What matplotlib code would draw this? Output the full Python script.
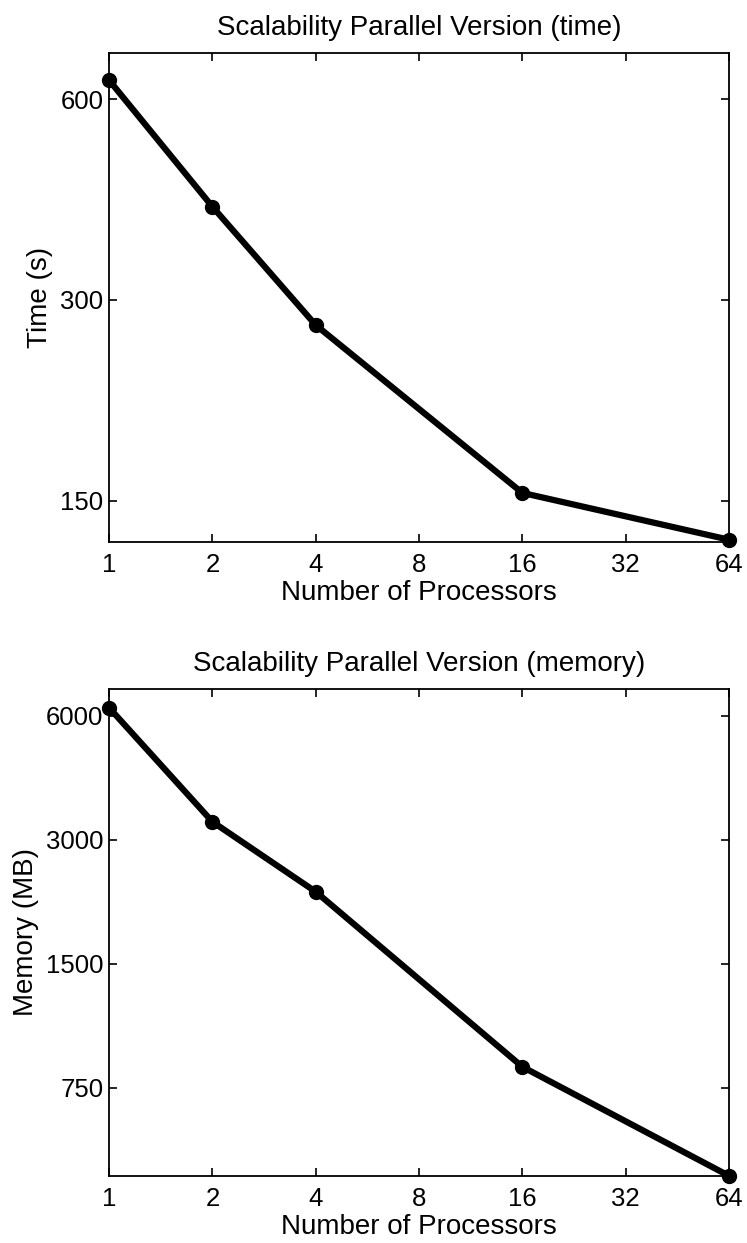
import numpy as np
import matplotlib.pyplot as plt
from matplotlib.ticker import FixedLocator, FixedFormatter, NullLocator

plt.rcParams['font.family'] = ['Liberation Sans', 'DejaVu Sans']

# data
procs = [1, 2, 4, 16, 64]
time_s = [641, 414, 275, 154, 131]
memory_mb = [6275, 3318, 2244, 844, 459]

xticks = [1, 2, 4, 8, 16, 32, 64]
time_ticks = [150, 300, 600]
mem_ticks = [750, 1500, 3000, 6000]

fig = plt.figure(figsize=(7.47, 12.43), dpi=100)
ax1 = fig.add_axes([0.146, 0.564, 0.830, 0.393])
ax2 = fig.add_axes([0.146, 0.054, 0.830, 0.392])


def style(ax, y, yticks, ylim, title, ylabel):
    ax.plot(procs, y, color='black', lw=4.5, marker='o', ms=10,
            mfc='black', mec='black', clip_on=False, zorder=3)
    ax.set_xscale('log', base=2)
    ax.set_yscale('log')
    ax.set_xlim(1, 64)
    ax.set_ylim(*ylim)
    ax.xaxis.set_major_locator(FixedLocator(xticks))
    ax.xaxis.set_major_formatter(FixedFormatter([str(t) for t in xticks]))
    ax.xaxis.set_minor_locator(NullLocator())
    ax.yaxis.set_major_locator(FixedLocator(yticks))
    ax.yaxis.set_major_formatter(FixedFormatter([str(t) for t in yticks]))
    ax.yaxis.set_minor_locator(NullLocator())
    ax.tick_params(direction='in', length=6, width=1.2, top=True, right=True,
                   labelsize=18.5)
    ax.tick_params(axis='x', pad=8)
    ax.tick_params(axis='y', pad=4)
    for s in ax.spines.values():
        s.set_linewidth(1.3)
    ax.set_title(title, fontsize=20, pad=13)
    ax.set_xlabel('Number of Processors', fontsize=20, labelpad=2)
    ax.set_ylabel(ylabel, fontsize=20, labelpad=5)


style(ax1, time_s, time_ticks, (130, 703),
      'Scalability Parallel Version (time)', 'Time (s)')
style(ax2, memory_mb, mem_ticks, (459, 6980),
      'Scalability Parallel Version (memory)', 'Memory (MB)')

fig.savefig('out.png', dpi=100)
